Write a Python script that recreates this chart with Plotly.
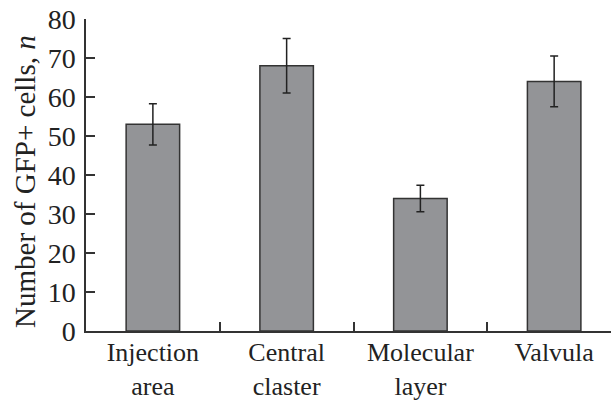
import plotly.graph_objects as go

categories = ["Injection<br>area", "Central<br>claster", "Molecular<br>layer", "Valvula"]
values = [53, 68, 34, 64]
errors = [5.3, 7.0, 3.4, 6.5]
y_ticks = [0, 10, 20, 30, 40, 50, 60, 70, 80]

font = "Liberation Serif"
tc = "#222222"

fig = go.Figure(go.Bar(
    x=categories, y=values, width=0.4,
    marker=dict(color="#939497", line=dict(color="#333333", width=1.5)),
    error_y=dict(type="data", array=errors, visible=True, color="#222222", thickness=1.5, width=4),
))

fig.update_layout(
    width=611, height=401,
    margin=dict(l=86, r=0, t=19, b=70),
    paper_bgcolor="white", plot_bgcolor="white",
    font=dict(family=font, size=27, color=tc),
    showlegend=False,
    annotations=[dict(
        text="Number of GFP+ cells, <i>n</i>", textangle=-90,
        xref="paper", yref="paper", x=-0.116, y=0.478,
        xanchor="center", yanchor="middle", showarrow=False,
        font=dict(family=font, size=29, color=tc),
    )],
)
fig.update_xaxes(
    type="category", range=[-0.5, 3.425], automargin=False,
    showline=True, linecolor="#333333", linewidth=1.5,
    ticks="inside", ticklen=9, tickcolor="#333333", tickwidth=1.5,
    tickson="boundaries", showgrid=False, zeroline=False,
    ticklabelstandoff=-3,
    tickfont=dict(family=font, size=26, color=tc),
)
fig.update_yaxes(
    range=[0, 80], tickvals=y_ticks, automargin=False,
    showline=True, linecolor="#333333", linewidth=1.5,
    ticks="inside", ticklen=9, tickcolor="#333333", tickwidth=1.5,
    ticklabelstandoff=3,
    showgrid=False, zeroline=False,
    tickfont=dict(family=font, size=28, color=tc),
)

fig.write_html("out.html", config={"displayModeBar": False},
               post_script="document.body.style.margin='0';")
